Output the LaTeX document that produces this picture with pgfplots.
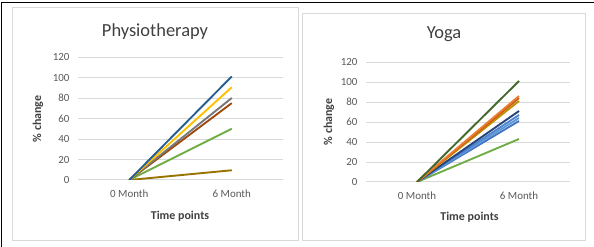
\documentclass[border=0pt]{standalone}
\usepackage{pgfplots}
\pgfplotsset{compat=1.18}
\usepackage{fontspec}
\setmainfont{Carlito}
\definecolor{ticklab}{HTML}{595959}
\definecolor{titlecol}{HTML}{404040}
\definecolor{gridgray}{HTML}{D9D9D9}
\definecolor{panelgray}{HTML}{D9D9D9}
\pgfplotsset{
  panelaxis/.style={
    scale only axis,
    anchor=south west,
    xmin=-0.5, xmax=1.5,
    ymin=0, ymax=120,
    xtick={0,1},
    xticklabels={0 Month,6 Month},
    ytick={0,20,...,120},
    ymajorgrids=false,
    xmajorgrids=false,
    axis line style={draw=none},
    tick style={draw=none},
    ticklabel style={font=\fontsize{11}{13}\selectfont, text=ticklab},
    /pgf/number format/assume math mode=true,
    yticklabel style={xshift=-5bp},
    xticklabel style={yshift=-6bp},
    every axis plot/.append style={line width=1.9pt, mark=none},
  },
  gridline/.style={draw=gridgray, line width=0.75pt, forget plot, mark=none},
}
\begin{document}
\begin{tikzpicture}
\useasboundingbox (0,0) rectangle (594bp,247bp);
\draw[black, line width=1pt] (1.5bp,0) -- (1.5bp,244.5bp) -- (594bp,244.5bp);
\draw[panelgray, line width=0.8pt] (12bp,7bp) rectangle (298bp,240bp);
\draw[panelgray, line width=0.8pt] (302bp,7bp) rectangle (585bp,234bp);

\begin{axis}[panelaxis, at={(78bp,67bp)}, width=205bp, height=123bp]
\pgfplotsinvokeforeach{0.2,20,40,60,80,100,119.8}{
  \addplot[gridline] coordinates {(-0.5,#1) (1.5,#1)};
}
\addplot[color={rgb,255:red,151;green,115;blue,0}] coordinates {(0,0) (1,9.5)};
\addplot[color={rgb,255:red,112;green,173;blue,71}] coordinates {(0,0) (1,50)};
\addplot[color={rgb,255:red,158;green,72;blue,14}] coordinates {(0,0) (1,75)};
\addplot[color={rgb,255:red,120;green,120;blue,120}] coordinates {(0,0) (1,80)};
\addplot[color={rgb,255:red,255;green,192;blue,0}] coordinates {(0,0) (1,90.5)};
\addplot[color={rgb,255:red,37;green,94;blue,145}] coordinates {(0,0) (1,101)};
\end{axis}

\begin{axis}[panelaxis, at={(366bp,65bp)}, width=204bp, height=120bp]
\pgfplotsinvokeforeach{0.2,20,40,60,80,100,119.8}{
  \addplot[gridline] coordinates {(-0.5,#1) (1.5,#1)};
}
\addplot[color={rgb,255:red,112;green,173;blue,71}] coordinates {(0,0) (1,43)};
\addplot[color={rgb,255:red,68;green,114;blue,196}] coordinates {(0,0) (1,61)};
\addplot[color={rgb,255:red,91;green,155;blue,213}] coordinates {(0,0) (1,64)};
\addplot[color={rgb,255:red,80;green,130;blue,210}] coordinates {(0,0) (1,67)};
\addplot[color={rgb,255:red,38;green,68;blue,120}] coordinates {(0,0) (1,71)};
\addplot[color={rgb,255:red,191;green,143;blue,0}] coordinates {(0,0) (1,81)};
\addplot[color={rgb,255:red,197;green,90;blue,17}] coordinates {(0,0) (1,84)};
\addplot[color={rgb,255:red,237;green,125;blue,49}] coordinates {(0,0) (1,86)};
\addplot[color={rgb,255:red,67;green,104;blue,43}] coordinates {(0,0) (1,101)};
\end{axis}

\node[text=titlecol, font=\fontsize{18.5}{22}\selectfont] at (155bp,215bp) {Physiotherapy};
\node[text=titlecol, font=\fontsize{18.5}{22}\selectfont] at (444bp,213bp) {Yoga};
\node[text=titlecol, font=\bfseries\fontsize{12}{14}\selectfont, rotate=90] at (38bp,128bp) {\% change};
\node[text=titlecol, font=\bfseries\fontsize{12}{14}\selectfont, rotate=90] at (329bp,125bp) {\% change};
\node[text=titlecol, font=\bfseries\fontsize{12}{14}\selectfont] at (180bp,31bp) {Time points};
\node[text=titlecol, font=\bfseries\fontsize{12}{14}\selectfont] at (469.5bp,30bp) {Time points};
\end{tikzpicture}
\end{document}
